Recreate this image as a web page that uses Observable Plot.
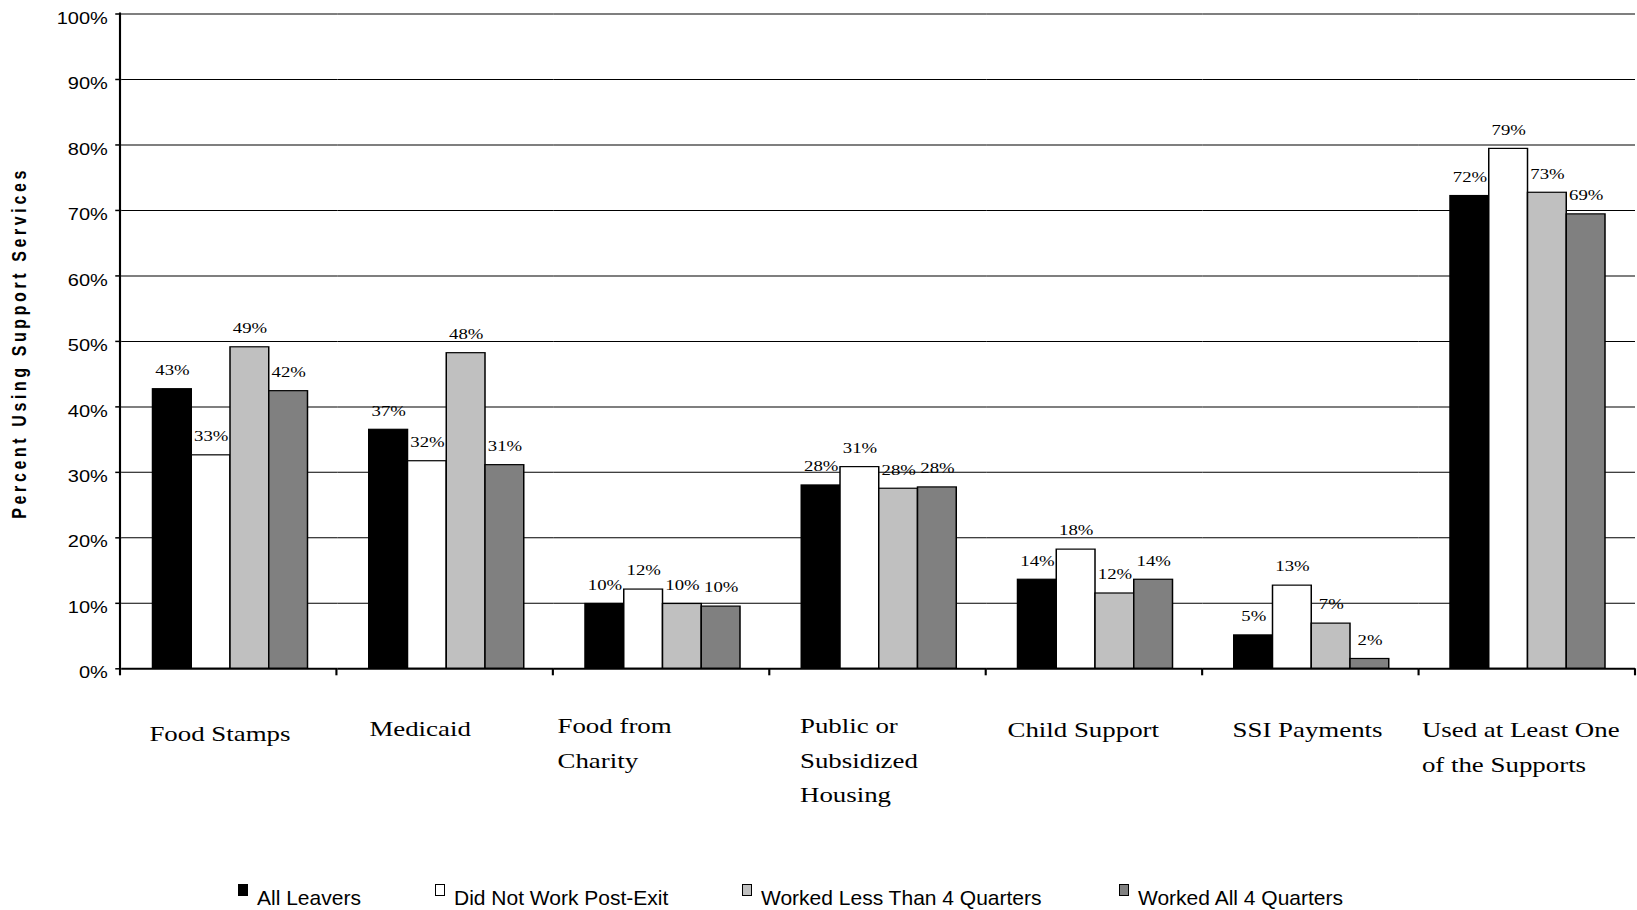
<!DOCTYPE html>
<html>
<head>
<meta charset="utf-8">
<script src="https://cdn.jsdelivr.net/npm/d3@7"></script>
<script src="https://cdn.jsdelivr.net/npm/@observablehq/plot@0.6"></script>
<style>
  html, body { margin: 0; padding: 0; background: #fff; overflow: hidden; }
  #wrap { position: relative; width: 1637px; height: 910px; }
  #chart svg { display: block; }
  #legend { position: absolute; left: 0; top: 0; width: 1637px; height: 910px; pointer-events: none;
            font-family: "Liberation Sans", Arial, sans-serif; font-size: 21px; color: #000; }
  #legend .sw { position: absolute; top: 884px; width: 10px; height: 12px; box-sizing: border-box; border: 1px solid #000; }
  #legend .lb { position: absolute; top: 887px; line-height: 21px; white-space: nowrap; }
</style>
</head>
<body>
<div id="wrap"><div id="chart"></div><div id="legend"></div></div>
<script>
// Support categories (x groups) and their printed, wrapped labels
const categories = [
  "Food Stamps", "Medicaid", "Food from Charity", "Public or Subsidized Housing",
  "Child Support", "SSI Payments", "Used at Least One of the Supports"
];
const categoryLabels = [
  "Food Stamps", "Medicaid", "Food from\nCharity", "Public or\nSubsidized\nHousing",
  "Child Support", "SSI Payments", "Used at Least One\nof the Supports"
];

// Leaver groups (bars within each category)
const series = ["All Leavers", "Did Not Work Post-Exit", "Worked Less Than 4 Quarters", "Worked All 4 Quarters"];
const seriesColors = ["#000000", "#ffffff", "#c0c0c0", "#808080"];

// Percent using each support, by group
const allLeavers = [42.7, 36.5, 9.9, 28.0, 13.6, 5.1, 72.2];
const didNotWork = [32.6, 31.7, 12.1, 30.8, 18.2, 12.7, 79.4];
const workedLess = [49.1, 48.2, 9.9, 27.5, 11.5, 6.9, 72.7];
const workedAll  = [42.4, 31.1, 9.5, 27.7, 13.6, 1.5, 69.4];

// Y axis ticks (percent)
const yTicks = [0, 10, 20, 30, 40, 50, 60, 70, 80, 90, 100];

const seriesValues = [allLeavers, didNotWork, workedLess, workedAll];
const rows = categories.flatMap((c, i) =>
  series.map((s, j) => ({category: c, series: s, value: seriesValues[j][i]}))
);

// The chart is laid out in a narrower box and stretched horizontally to full width
const W = 1637, H = 870, STRETCH = 1.25;
const innerW = W / STRETCH;
const serif = "'Liberation Serif', 'Times New Roman', serif";
const sans = "'Liberation Sans', Arial, sans-serif";

// Category label placement within each group: [indent, offset below baseline]
const labelPlacement = {
  "Food Stamps": [22, 48],
  "Medicaid": [25, 43],
  "Food from Charity": [2.5, 40],
  "Public or Subsidized Housing": [23.5, 40],
  "Child Support": [16.5, 44],
  "SSI Payments": [23.5, 44],
  "Used at Least One of the Supports": [2, 44]
};

const chart = Plot.plot({
  width: innerW,
  height: H,
  marginLeft: 96,
  marginRight: 1.6,
  marginTop: 13.5,
  marginBottom: H - 668.3,
  style: {fontFamily: sans, fontSize: "16px", color: "#000", background: "#fff"},
  fx: {domain: categories, padding: 0, axis: null},
  x: {domain: series, paddingInner: 0, paddingOuter: 0.74, axis: null},
  y: {domain: [0, 100], axis: null},
  color: {domain: series, range: seriesColors},
  marks: [
    Plot.gridY(yTicks.slice(1), {stroke: "#000", strokeOpacity: 1, strokeWidth: 1}),
    Plot.barY(rows, {fx: "category", x: "series", y: "value", fill: "series", stroke: "#000", strokeWidth: 1.2}),
    Plot.ruleY([0], {stroke: "#000", strokeWidth: 2}),
    Plot.text(rows, {
      fx: "category", x: "series", y: "value",
      text: d => Math.round(d.value) + "%",
      dy: -19, lineAnchor: "middle",
      fontFamily: serif, fontSize: 15, fill: "#000"
    }),
    Plot.axisY(yTicks, {
      label: null, text: null,
      tickSize: 4.8, stroke: "#000", strokeWidth: 1.5
    }),
    Plot.axisY(yTicks, {
      label: null, tickSize: 0, tickPadding: 11.2, dy: 4.5,
      tickFormat: d => d + "%",
      fontSize: 16, fontFamily: sans, textAnchor: "end"
    }),
    ...categories.map((c, i) => Plot.text([c], {
      fx: d => d,
      text: () => categoryLabels[i],
      frameAnchor: "bottom-left",
      textAnchor: "start",
      lineAnchor: "top",
      lineHeight: 1.6,
      dx: labelPlacement[c][0],
      dy: labelPlacement[c][1],
      fontFamily: serif, fontSize: 21.5, fill: "#000"
    }))
  ]
});

// Stretch the drawing to the full page width
chart.setAttribute("width", W);
chart.setAttribute("preserveAspectRatio", "none");
chart.style.width = W + "px";
chart.style.height = H + "px";
chart.style.maxWidth = "none";

// Axis lines and category boundary ticks, placed from the chart's own scales
const yScale = chart.scale("y");
const fxScale = chart.scale("fx");
const band = d3.scaleBand().domain(fxScale.domain).range(fxScale.range).padding(0);
const yBottom = yScale.range[0], yTop = yScale.range[1];
const left = band.range()[0];
const g = d3.select(chart).append("g").attr("stroke", "#000");
g.append("line").attr("x1", left).attr("x2", left).attr("y1", yTop - 1).attr("y2", yBottom + 1).attr("stroke-width", 1.7);
const bounds = categories.map(c => band(c)).concat([band(categories[categories.length - 1]) + band.bandwidth()]);
g.selectAll(".bt").data(bounds).join("line")
  .attr("x1", d => d).attr("x2", d => d)
  .attr("y1", yBottom).attr("y2", yBottom + 7)
  .attr("stroke-width", 1.7);

// Y axis title
const titleX = 20.6, titleY = (yTop + yBottom) / 2 + 2;
d3.select(chart).append("text")
  .attr("transform", `translate(${titleX},${titleY}) rotate(-90)`)
  .attr("text-anchor", "middle")
  .attr("font-family", sans)
  .attr("font-weight", "bold")
  .attr("font-size", 16)
  .attr("letter-spacing", "3.6px")
  .attr("fill", "#000")
  .text("Percent Using Support Services");

document.getElementById("chart").appendChild(chart);

// Legend
const legendSwatchX = [238, 435, 742, 1119];
const legend = document.getElementById("legend");
series.forEach((s, i) => {
  const sw = document.createElement("div");
  sw.className = "sw";
  sw.style.left = legendSwatchX[i] + "px";
  sw.style.background = seriesColors[i];
  legend.appendChild(sw);
  const lb = document.createElement("div");
  lb.className = "lb";
  lb.style.left = (legendSwatchX[i] + 19) + "px";
  lb.textContent = s;
  legend.appendChild(lb);
});
</script>
</body>
</html>
